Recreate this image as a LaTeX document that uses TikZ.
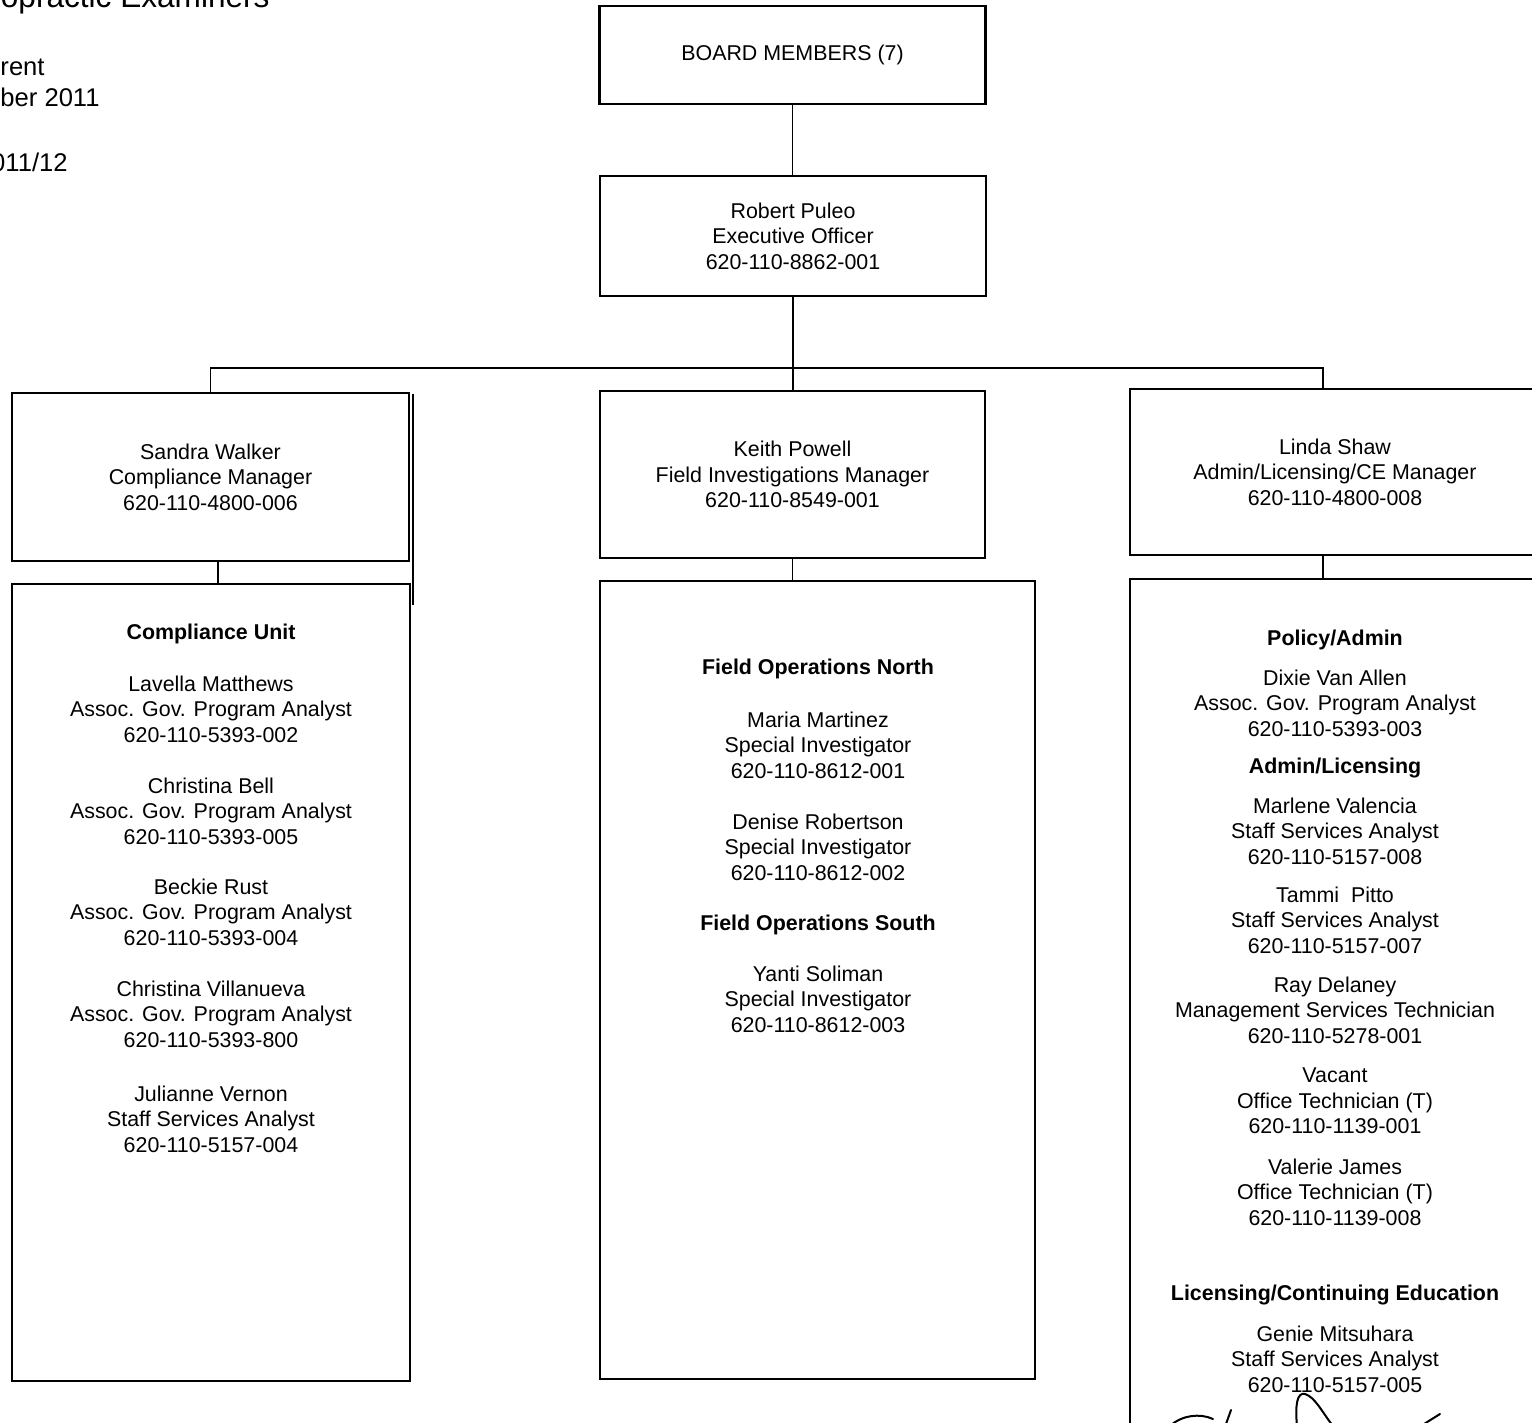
\documentclass[tikz,border=0pt]{standalone}
\usepackage{fontspec}
\setmainfont{Liberation Sans}
\begin{document}
\begin{tikzpicture}[x=0.5pt,y=-0.5pt,
  box/.style={draw=black,line width=1.2pt,rectangle,inner sep=0pt,align=center,
    font=\fontsize{10.7pt}{12.75pt}\selectfont},
  link/.style={draw=black,line width=0.8pt},
  txt/.style={inner sep=0pt,align=center,font=\fontsize{10.7pt}{12.75pt}\selectfont},
  hdr/.style={inner sep=0pt,align=center,font=\fontsize{10.7pt}{12.75pt}\selectfont\bfseries},
  head/.style={inner sep=0pt,anchor=base east,font=\fontsize{12.8pt}{15pt}\selectfont},
  sig/.style={draw=black,line width=1pt,line cap=round}]
\fill[white] (0,0) rectangle (1532,1423);
\useasboundingbox (0,0) rectangle (1532,1423);

% header (cropped at the page edge, as in the reference)
\node[head,font=\fontsize{15.8pt}{18pt}\selectfont] (title) at (270,8) {opractic Examiners};
\node[head] (h1) at (45,76) {rent};
\node[head] (h2) at (100,107) {ber 2011};
\node[head] (h3) at (68,172) {011/12};

% boxes
\node[box,minimum width=193pt,minimum height=49pt] (board) at (792.5,55) {BOARD MEMBERS (7)};
\node[box,minimum width=193pt,minimum height=60pt] (exec) at (793,236)
  {Robert Puleo\\Executive Officer\\620-110-8862-001};
\node[box,minimum width=198.5pt,minimum height=84pt] (sandra) at (210.5,477)
  {Sandra Walker\\Compliance Manager\\620-110-4800-006};
\node[box,minimum width=192.5pt,minimum height=83.5pt] (keith) at (792.5,474.5)
  {Keith Powell\\Field Investigations Manager\\620-110-8549-001};
\node[box,minimum width=205pt,minimum height=83pt] (linda) at (1335,472)
  {Linda Shaw\\Admin/Licensing/CE Manager\\620-110-4800-008};
\node[box,minimum width=199pt,minimum height=398.5pt] (comp) at (211,982.5) {};
\node[box,minimum width=217.5pt,minimum height=399pt] (field) at (817.5,980) {};
\node[box,minimum width=205pt,minimum height=430.5pt] (policy) at (1335,1009.5) {};

% connectors
\coordinate (cl) at (210.5,368);
\coordinate (cr) at (1323,368);
\coordinate (cs) at (218,0);
\coordinate (dbl) at (413,0);
\draw[link] (board.south) -- (board.south |- exec.north);
\draw[link] (exec.south) -- (exec.south |- keith.north);
\draw[link] (sandra.north) -- (cl) -- (cr) -- (cr |- linda.north);
\draw[link] (sandra.south -| cs) -- (comp.north -| cs);
\draw[link] (keith.south) -- (keith.south |- field.north);
\draw[link] (linda.south -| cr) -- (policy.north -| cr);
\draw[link] ([yshift=-1pt]sandra.north -| dbl) -- ([yshift=-11pt]comp.north -| dbl);

% compliance unit
\node[hdr] (c0) at (211,633.5) {Compliance Unit};
\node[txt] (c1) at (211,709) {Lavella Matthews\\Assoc. Gov. Program Analyst\\620-110-5393-002};
\node[txt] (c2) at (211,811) {Christina Bell\\Assoc. Gov. Program Analyst\\620-110-5393-005};
\node[txt] (c3) at (211,912) {Beckie Rust\\Assoc. Gov. Program Analyst\\620-110-5393-004};
\node[txt] (c4) at (211,1014) {Christina Villanueva\\Assoc. Gov. Program Analyst\\620-110-5393-800};
\node[txt] (c5) at (211,1119) {Julianne Vernon\\Staff Services Analyst\\620-110-5157-004};

% field operations
\node[hdr] (f0) at (818,668.5) {Field Operations North};
\node[txt] (f1) at (818,745) {Maria Martinez\\Special Investigator\\620-110-8612-001};
\node[txt] (f2) at (818,847) {Denise Robertson\\Special Investigator\\620-110-8612-002};
\node[hdr] (f3) at (818,924.5) {Field Operations South};
\node[txt] (f4) at (818,999) {Yanti Soliman\\Special Investigator\\620-110-8612-003};

% policy / admin
\node[hdr] (p0) at (1335,639.5) {Policy/Admin};
\node[txt] (p1) at (1335,703) {Dixie Van Allen\\Assoc. Gov. Program Analyst\\620-110-5393-003};
\node[hdr] (p2) at (1335,768.5) {Admin/Licensing};
\node[txt] (p3) at (1335,831) {Marlene Valencia\\Staff Services Analyst\\620-110-5157-008};
\node[txt] (p4) at (1335,920) {Tammi\ \ Pitto\\Staff Services Analyst\\620-110-5157-007};
\node[txt] (p5) at (1335,1010) {Ray Delaney\\Management Services Technician\\620-110-5278-001};
\node[txt] (p6) at (1335,1101) {Vacant\\Office Technician (T)\\620-110-1139-001};
\node[txt] (p7) at (1335,1192) {Valerie James\\Office Technician (T)\\620-110-1139-008};
\node[hdr] (p8) at (1335,1295.5) {Licensing/Continuing Education};
\node[txt] (p9) at (1335,1359) {Genie Mitsuhara\\Staff Services Analyst\\620-110-5157-005};

% signature (cropped)
\draw[sig] (1170,1426) .. controls (1182,1415) and (1200,1413) .. (1213,1419);
\draw[sig] (1226,1424) -- (1231,1410);
\draw[sig] (1297,1426) .. controls (1295,1405) and (1297,1392) .. (1305,1394)
  .. controls (1315,1397) and (1322,1412) .. (1333,1426);
\draw[sig] (1424,1424) -- (1440,1414);
\end{tikzpicture}
\end{document}
